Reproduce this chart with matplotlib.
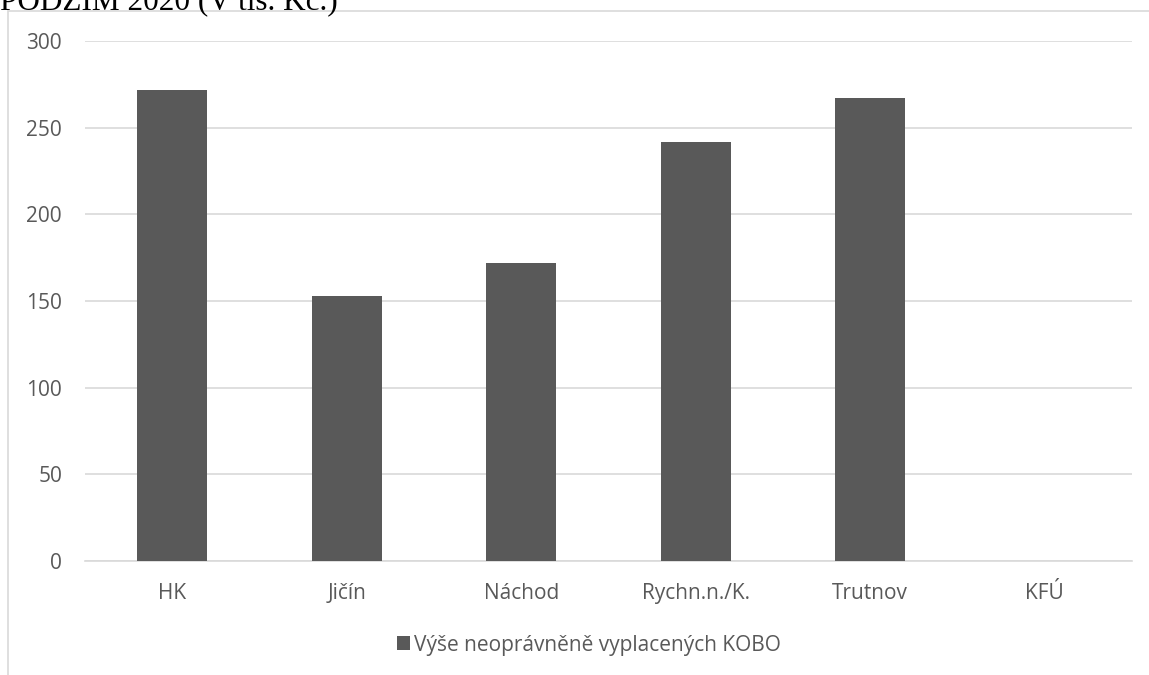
import numpy as np
import matplotlib.pyplot as plt
from matplotlib.patches import Rectangle

categories = ["HK", "Jičín", "Náchod", "Rychn.n./K.", "Trutnov", "KFÚ"]
values = [272, 153, 172, 242, 267, 0]
series_name = "Výše neoprávněně vyplacených KOBO"
title = "PODZIM 2020 (V tis. Kč.)"

bar_color = "#595959"
text_color = "#595959"
grid_color = "#d9d9d9"

plt.rcParams['font.family'] = ['Open Sans', 'DejaVu Sans']

fig = plt.figure(figsize=(11.49, 6.75), dpi=100)
W, H = 1149, 675

# chart frame (partially cut off, as in the screenshot)
fig.patches.append(Rectangle((8 / W, -0.1), 1.2, 1 - 11 / H + 0.1,
                             transform=fig.transFigure, fill=False,
                             edgecolor=grid_color, linewidth=1.2))
fig.text(0 / W, 1 - 9 / H, title, fontsize=22.5, family='Liberation Serif',
         va='baseline', ha='left', color='black')

ax = fig.add_axes([85 / W, 1 - 561 / H, (1132 - 85) / W, (561 - 41) / H])
x = np.arange(len(categories))
ax.bar(x, values, width=0.4, color=bar_color, label=series_name, zorder=3)
ax.set_xlim(-0.5, len(categories) - 0.5)
ax.set_ylim(0, 300)
ax.set_yticks(np.arange(0, 301, 50))
ax.yaxis.grid(True, color=grid_color, linewidth=1.2, zorder=0)
ax.set_xticks(x)
ax.set_xticklabels(categories)
for s in ['top', 'right', 'left']:
    ax.spines[s].set_visible(False)
ax.spines['bottom'].set_color(grid_color)
ax.spines['bottom'].set_linewidth(1.2)
ax.tick_params(axis='both', length=0, colors=text_color, labelsize=15)
ax.tick_params(axis='y', pad=16.5)
ax.tick_params(axis='x', pad=16)

ax.legend(loc='center', bbox_to_anchor=(589 / W, 1 - 645 / H),
          bbox_transform=fig.transFigure, frameon=False, fontsize=15,
          labelcolor=text_color, handlelength=0.65, handleheight=0.65,
          handletextpad=0.2)

fig.savefig("out.png", dpi=100)
